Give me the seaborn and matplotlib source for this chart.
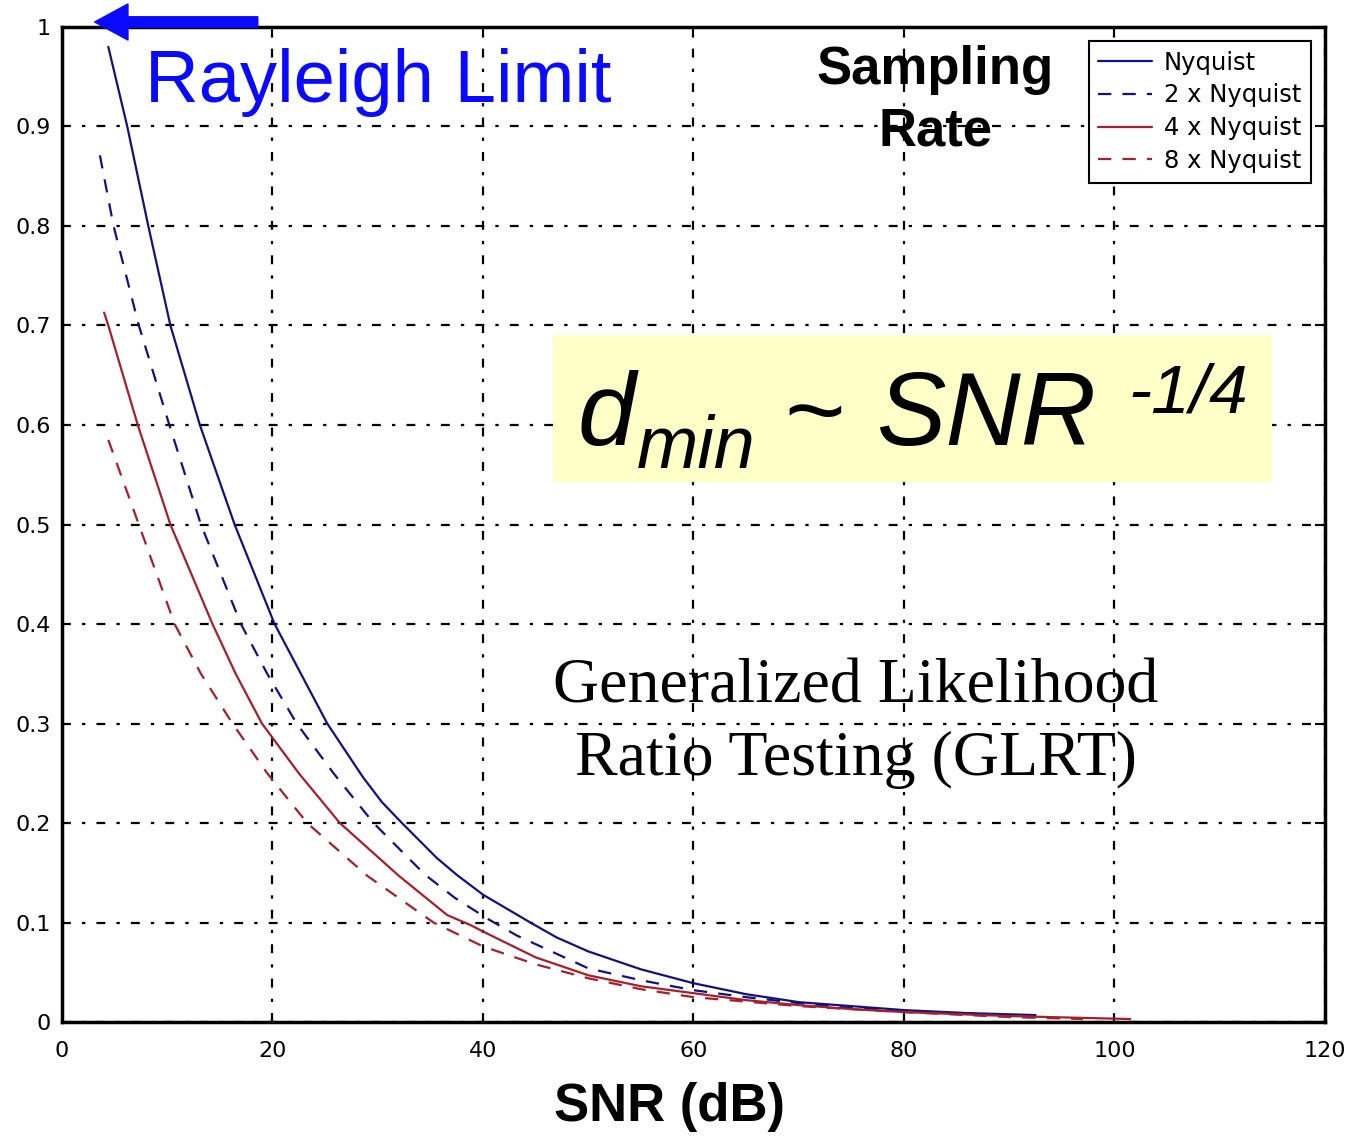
import matplotlib
matplotlib.use("Agg")
import matplotlib.pyplot as plt
from matplotlib.patches import Rectangle
import seaborn as sns
import pandas as pd

# ---------------- data ----------------
series_names = ["Nyquist", "2 x Nyquist", "4 x Nyquist", "8 x Nyquist"]

nyq_x = [4.4, 6.2, 8.2, 10.3, 13.1, 16.4, 20.2, 21.9, 25.2, 28.6, 30.4, 32.3, 35.6, 37.5, 40.0,
         44.5, 47.0, 50.0, 55.0, 60.0, 65.0, 70.0, 75.0, 80.0, 86.0, 92.5]
nyq_y = [0.98, 0.90, 0.80, 0.70, 0.60, 0.50, 0.40, 0.366, 0.30, 0.246, 0.221, 0.20, 0.165, 0.148, 0.128,
         0.10, 0.085, 0.071, 0.053, 0.039, 0.028, 0.020, 0.016, 0.012, 0.009, 0.007]

nyq2_x = [3.6, 4.9, 7.3, 10.2, 13.2, 17.0, 19.5, 22.3, 25.8, 29.6, 34.5, 37.3, 40.4, 43.2,
          50.0, 55.0, 60.0, 65.0, 70.0, 75.0, 80.0, 88.0]
nyq2_y = [0.871, 0.80, 0.70, 0.60, 0.50, 0.40, 0.35, 0.30, 0.25, 0.20, 0.148, 0.125, 0.104, 0.087,
          0.054, 0.042, 0.032, 0.025, 0.019, 0.014, 0.011, 0.008]

nyq4_x = [4.0, 4.4, 7.2, 10.3, 14.3, 16.5, 19.0, 22.5, 26.4, 32.0, 36.6, 38.8, 40.0, 45.0,
          50.0, 55.0, 60.0, 65.0, 70.0, 75.0, 80.0, 90.0, 101.5]
nyq4_y = [0.713, 0.70, 0.60, 0.50, 0.40, 0.35, 0.30, 0.25, 0.20, 0.147, 0.1075, 0.0975, 0.091, 0.065,
          0.047, 0.036, 0.029, 0.022, 0.017, 0.013, 0.010, 0.006, 0.003]

nyq8_x = [4.4, 7.3, 10.7, 13.2, 16.2, 19.5, 23.3, 29.0, 35.3, 40.0, 45.0, 50.0, 55.0, 60.0,
          70.0, 80.0, 90.0, 97.0]
nyq8_y = [0.585, 0.50, 0.40, 0.35, 0.30, 0.25, 0.20, 0.147, 0.10, 0.076, 0.058, 0.044, 0.033, 0.025,
          0.016, 0.010, 0.005, 0.003]

x_ticks = [0, 20, 40, 60, 80, 100, 120]
x_tick_labels = ["0", "20", "40", "60", "80", "100", "120"]
y_ticks = [0, 0.1, 0.2, 0.3, 0.4, 0.5, 0.6, 0.7, 0.8, 0.9, 1.0]
y_tick_labels = ["0", "0.1", "0.2", "0.3", "0.4", "0.5", "0.6", "0.7", "0.8", "0.9", "1"]

xs = [nyq_x, nyq2_x, nyq4_x, nyq8_x]
ys = [nyq_y, nyq2_y, nyq4_y, nyq8_y]
colors = ["#12127e", "#12127e", "#a3202c", "#a3202c"]
dashes = [None, (6, 5), None, (6, 5)]

# ---------------- figure ----------------
sns.set_style("white")
plt.rcParams["font.family"] = ["Liberation Sans", "DejaVu Sans"]
plt.rcParams["text.color"] = "black"
plt.rcParams["axes.labelcolor"] = "black"
plt.rcParams["xtick.color"] = "black"
plt.rcParams["ytick.color"] = "black"

fig = plt.figure(figsize=(13.45, 11.38), dpi=100)
ax = fig.add_axes([0.0461, 0.1019, 0.9390, 0.8744])

for name, x, y, c, d in zip(series_names, xs, ys, colors, dashes):
    df = pd.DataFrame({"x": x, "y": y})
    sns.lineplot(data=df, x="x", y="y", ax=ax, color=c, linewidth=1.6,
                 label=name, estimator=None, sort=False)
    if d is not None:
        ax.lines[-1].set_dashes(d)

ax.set_xlim(0, 120)
ax.set_ylim(0, 1)
ax.set_xticks(x_ticks)
ax.set_xticklabels(x_tick_labels, fontsize=16, family="DejaVu Sans")
ax.set_yticks(y_ticks)
ax.set_yticklabels(y_tick_labels, fontsize=16, family="DejaVu Sans")
ax.tick_params(axis="x", pad=14)
ax.tick_params(axis="y", pad=8)
ax.tick_params(direction="in", length=7, width=1.5, colors="black",
               top=True, right=True)
ax.set_axisbelow(True)
ax.grid(True, color="black", linewidth=1.6, linestyle=(0, (4, 5, 1.5, 5)))
for s in ax.spines.values():
    s.set_color("black")
    s.set_linewidth(2.5)

ax.set_xlabel("SNR (dB)", fontsize=38, fontweight="bold", va="center")
ax.xaxis.set_label_coords(0.481, -0.085)
ax.set_ylabel("")

leg = ax.legend(loc="upper right", bbox_to_anchor=(1 - 14 / 1263, 1 - 14 / 995),
                borderaxespad=0, prop={"family": "DejaVu Sans", "size": 17.5},
                frameon=True, fancybox=False,
                handlelength=2.2, labelspacing=0.36, borderpad=0.4,
                handletextpad=0.5)
leg.get_frame().set_edgecolor("black")
leg.get_frame().set_linewidth(1.5)
leg.get_frame().set_alpha(1)

# Rayleigh limit arrow and label
ax.annotate("", xy=(3.1, 1.005), xytext=(18.6, 1.005),
            arrowprops=dict(width=7.5, headwidth=26, headlength=24, color="#0a0aff",
                            shrink=0),
            annotation_clip=False)
ax.text(7.9, 0.944, "Rayleigh Limit", fontsize=53.5, color="#0a0aff",
        ha="left", va="center")

ax.text(83.0, 0.926, "Sampling\nRate", fontsize=38, fontweight="bold",
        ha="center", va="center", linespacing=1.3)

# yellow formula box
box = Rectangle((0.389, 0.543), 0.569, 0.147, transform=ax.transAxes,
                facecolor="#ffffc8", edgecolor="none", zorder=1)
ax.add_patch(box)
tr = ax.transAxes
ax.text(0.4085, 0.580, "d", transform=tr, fontsize=75, style="italic",
        ha="left", va="baseline", zorder=3)
ax.text(0.4555, 0.557, "min", transform=tr, fontsize=53, style="italic",
        ha="left", va="baseline", zorder=3)
ax.text(0.572, 0.580, "~", transform=tr, fontsize=75,
        ha="left", va="baseline", zorder=3)
ax.text(0.6445, 0.580, "SNR", transform=tr, fontsize=75, style="italic",
        ha="left", va="baseline", zorder=3)
ax.text(0.844, 0.613, "-1/4", transform=tr, fontsize=50, style="italic",
        ha="left", va="baseline", zorder=3)

ax.text(75.4, 0.300, "Generalized Likelihood\nRatio Testing (GLRT)",
        fontsize=46, family=["Liberation Serif", "DejaVu Serif"],
        ha="center", va="center", linespacing=1.33)

fig.savefig("out.png", dpi=100, facecolor="white")
